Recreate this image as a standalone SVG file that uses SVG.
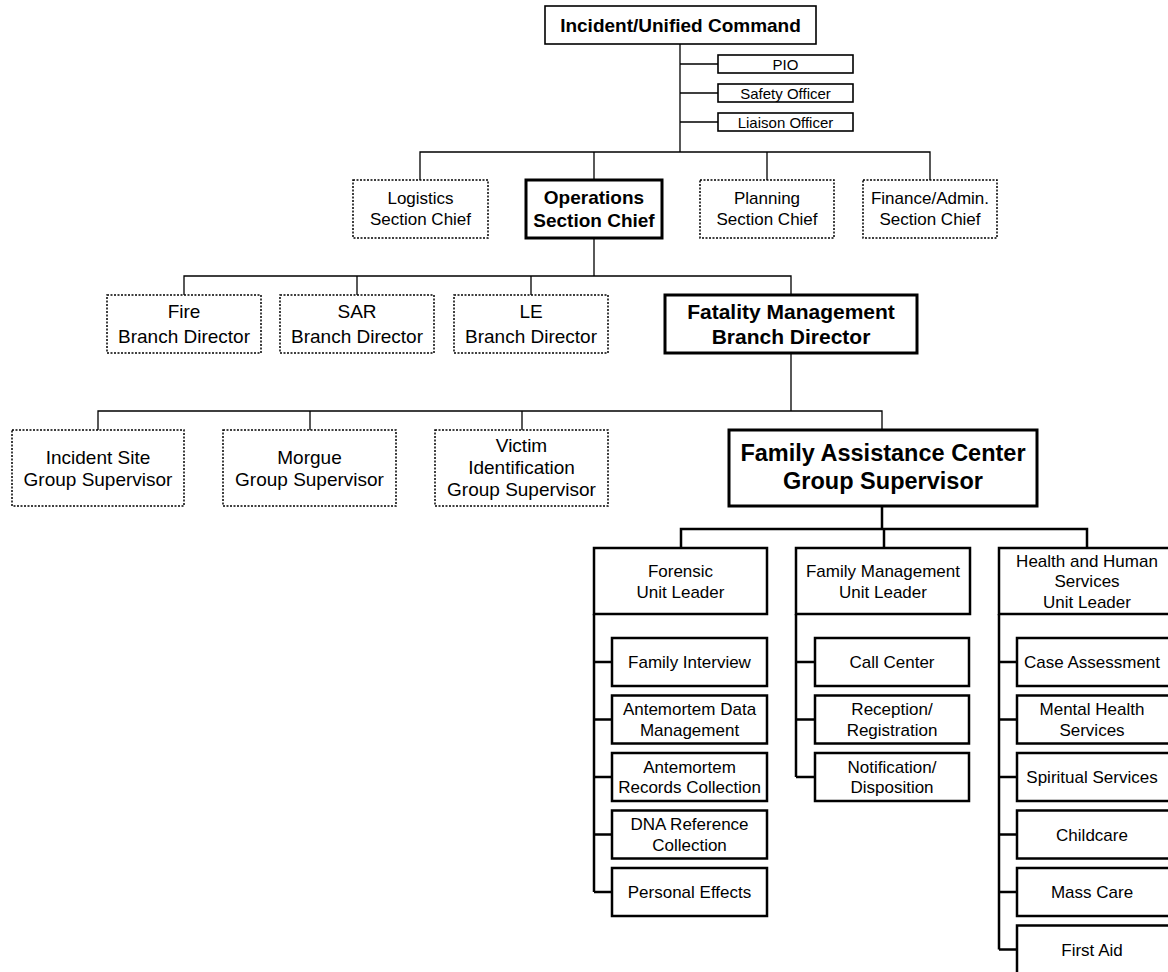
<svg xmlns="http://www.w3.org/2000/svg" width="1168" height="972" viewBox="0 0 1168 972">
<style>
.thin{stroke:#000;stroke-width:1.3;fill:none}
.thick{stroke:#000;stroke-width:2.5;fill:none}
.dot{fill:#fff;stroke:#000;stroke-width:1.5;stroke-dasharray:2 1.5}
.box{fill:#fff;stroke:#000;stroke-width:1.6}
.bold{fill:#fff;stroke:#000;stroke-width:3}
.unit{fill:#fff;stroke:#000;stroke-width:2.5}
text{font-family:"Liberation Sans",Arial,Helvetica,sans-serif;fill:#000;text-anchor:middle}
.b{font-weight:bold}
.s15{font-size:15px}
.s17{font-size:17px}
.s19{font-size:19px}
.s21{font-size:21px}
.s23{font-size:23.5px}
</style>
<rect width="1168" height="972" fill="#fff"/>
<g id="connectors">
<path class="thin" d="M680 44V152M680 64H718M680 93H718M680 122H718"/>
<path class="thin" d="M420 180V152H930V180M594 152V180M767 152V180"/>
<path class="thin" d="M594 238V276M184 295V276H791V295M357 276V295M531 276V295"/>
<path class="thin" d="M791 353V411M98 430V411H882V430M310 411V430M522 411V430"/>
<path class="thick" d="M882 506V529M681 548V529H1087V548M884 529V548"/>
<path class="thick" d="M594 614V892M594 662H612M594 719.5H612M594 777H612M594 834.5H612M594 892H612"/>
<path class="thick" d="M796 614V777M796 662H815M796 719.5H815M796 777H815"/>
<path class="thick" d="M999 614V949.5M999 662H1017M999 719.5H1017M999 777H1017M999 834.5H1017M999 892H1017M999 949.5H1017"/>
</g>
<g id="n-command"><rect class="box" x="545" y="6" width="271" height="38"/><text class="b s19" x="680.5" y="31.5">Incident/Unified Command</text></g>
<g id="n-pio"><rect class="box" x="718" y="55" width="135" height="18"/><text class="s15" x="785.5" y="69.5">PIO</text></g>
<g id="n-safety"><rect class="box" x="718" y="84" width="135" height="18"/><text class="s15" x="785.5" y="98.5">Safety Officer</text></g>
<g id="n-liaison"><rect class="box" x="718" y="113" width="135" height="18"/><text class="s15" x="785.5" y="127.5">Liaison Officer</text></g>

<g id="n-logistics"><rect class="dot" x="353" y="180" width="135" height="58"/><text class="s17" x="420.5" y="204">Logistics</text><text class="s17" x="420.5" y="225">Section Chief</text></g>
<g id="n-operations"><rect class="bold" x="526" y="180" width="136" height="58"/><text class="b s19" x="594" y="204">Operations</text><text class="b s19" x="594" y="226.5">Section Chief</text></g>
<g id="n-planning"><rect class="dot" x="700" y="180" width="134" height="58"/><text class="s17" x="767" y="204">Planning</text><text class="s17" x="767" y="225">Section Chief</text></g>
<g id="n-finance"><rect class="dot" x="863" y="180" width="134" height="58"/><text class="s17" x="930" y="204">Finance/Admin.</text><text class="s17" x="930" y="225">Section Chief</text></g>

<g id="n-fire"><rect class="dot" x="107" y="295" width="154" height="58"/><text class="s19" x="184" y="318">Fire</text><text class="s19" x="184" y="342.5">Branch Director</text></g>
<g id="n-sar"><rect class="dot" x="280" y="295" width="154" height="58"/><text class="s19" x="357" y="318">SAR</text><text class="s19" x="357" y="342.5">Branch Director</text></g>
<g id="n-le"><rect class="dot" x="454" y="295" width="154" height="58"/><text class="s19" x="531" y="318">LE</text><text class="s19" x="531" y="342.5">Branch Director</text></g>
<g id="n-fatality"><rect class="bold" x="665" y="295" width="252" height="58"/><text class="b s21" x="791" y="319">Fatality Management</text><text class="b s21" x="791" y="344">Branch Director</text></g>

<g id="n-incidentsite"><rect class="dot" x="12" y="430" width="172" height="76"/><text class="s19" x="98" y="464">Incident Site</text><text class="s19" x="98" y="486">Group Supervisor</text></g>
<g id="n-morgue"><rect class="dot" x="223" y="430" width="173" height="76"/><text class="s19" x="309.5" y="464">Morgue</text><text class="s19" x="309.5" y="486">Group Supervisor</text></g>
<g id="n-victim"><rect class="dot" x="435" y="430" width="173" height="76"/><text class="s19" x="521.5" y="452">Victim</text><text class="s19" x="521.5" y="474">Identification</text><text class="s19" x="521.5" y="496">Group Supervisor</text></g>
<g id="n-fac"><rect class="bold" x="729" y="430" width="308" height="76"/><text class="b s23" x="883" y="461">Family Assistance Center</text><text class="b s23" x="883" y="488.5">Group Supervisor</text></g>

<g id="n-forensic"><rect class="unit" x="594" y="548" width="173" height="66"/><text class="s17" x="680.5" y="577">Forensic</text><text class="s17" x="680.5" y="597.5">Unit Leader</text></g>
<g id="n-familymgmt"><rect class="unit" x="796" y="548" width="174" height="66"/><text class="s17" x="883" y="577">Family Management</text><text class="s17" x="883" y="597.5">Unit Leader</text></g>
<g id="n-hhs"><rect class="unit" x="999" y="548" width="176" height="66"/><text class="s17" x="1087" y="566.5">Health and Human</text><text class="s17" x="1087" y="587">Services</text><text class="s17" x="1087" y="607.5">Unit Leader</text></g>

<g id="n-familyinterview"><rect class="unit" x="612" y="638" width="155" height="48"/><text class="s17" x="689.5" y="668">Family Interview</text></g>
<g id="n-amdata"><rect class="unit" x="612" y="695.5" width="155" height="48"/><text class="s17" x="689.5" y="715">Antemortem Data</text><text class="s17" x="689.5" y="735.5">Management</text></g>
<g id="n-amrecords"><rect class="unit" x="612" y="753" width="155" height="48"/><text class="s17" x="689.5" y="772.5">Antemortem</text><text class="s17" x="689.5" y="793">Records Collection</text></g>
<g id="n-dna"><rect class="unit" x="612" y="810.5" width="155" height="48"/><text class="s17" x="689.5" y="830">DNA Reference</text><text class="s17" x="689.5" y="850.5">Collection</text></g>
<g id="n-personaleffects"><rect class="unit" x="612" y="868" width="155" height="48"/><text class="s17" x="689.5" y="898">Personal Effects</text></g>

<g id="n-callcenter"><rect class="unit" x="815" y="638" width="154" height="48"/><text class="s17" x="892" y="668">Call Center</text></g>
<g id="n-reception"><rect class="unit" x="815" y="695.5" width="154" height="48"/><text class="s17" x="892" y="715">Reception/</text><text class="s17" x="892" y="735.5">Registration</text></g>
<g id="n-notification"><rect class="unit" x="815" y="753" width="154" height="48"/><text class="s17" x="892" y="772.5">Notification/</text><text class="s17" x="892" y="793">Disposition</text></g>

<g id="n-case"><rect class="unit" x="1017" y="638" width="158" height="48"/><text class="s17" x="1092" y="668">Case Assessment</text></g>
<g id="n-mental"><rect class="unit" x="1017" y="695.5" width="158" height="48"/><text class="s17" x="1092" y="715">Mental Health</text><text class="s17" x="1092" y="735.5">Services</text></g>
<g id="n-spiritual"><rect class="unit" x="1017" y="753" width="158" height="48"/><text class="s17" x="1092" y="783">Spiritual Services</text></g>
<g id="n-childcare"><rect class="unit" x="1017" y="810.5" width="158" height="48"/><text class="s17" x="1092" y="840.5">Childcare</text></g>
<g id="n-masscare"><rect class="unit" x="1017" y="868" width="158" height="48"/><text class="s17" x="1092" y="898">Mass Care</text></g>
<g id="n-firstaid"><rect class="unit" x="1017" y="925.5" width="158" height="52"/><text class="s17" x="1092" y="955.5">First Aid</text></g>
</svg>
